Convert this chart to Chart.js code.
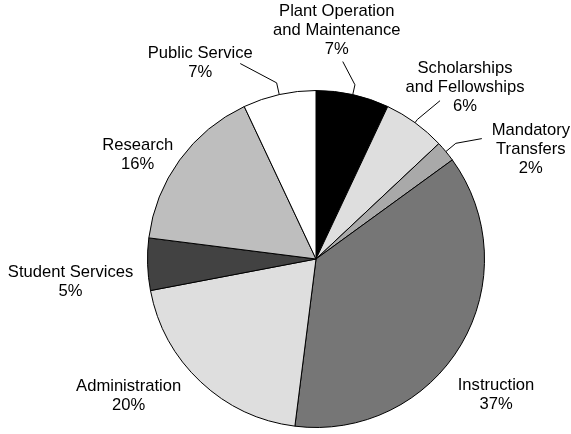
<!DOCTYPE html>
<html>
<head>
<meta charset="utf-8">
<script src="https://cdn.jsdelivr.net/npm/chart.js@4/dist/chart.umd.min.js"></script>
<style>
  body { margin: 0; background: #fff; }
  #wrap { width: 571px; height: 434px; }
</style>
</head>
<body>
<div id="wrap"><canvas id="myChart" width="571" height="434"></canvas></div>
<script>
// data
let categories = ['Plant Operation\nand Maintenance', 'Scholarships\nand Fellowships', 'Mandatory\nTransfers',
                  'Instruction', 'Administration', 'Student Services', 'Research', 'Public Service'];
let percents = [7, 6, 2, 37, 20, 5, 16, 7];

// style
let fills = ['#000000', '#dedede', '#a9a9a9', '#767676', '#dedede', '#424242', '#bebebe', '#ffffff'];
// label centre (middle line) offset from the slice's edge point at its mid angle
let labelOffsets = [[-16, -64], [50, -35], [85, -2], [35, 50], [-72, 14], [-77, 18], [-42, -5], [-79, -32]];
// leader lines: radial elbow length and end point offset from the edge point (null = no line)
let leaders = [[10, [-10, -33]], [4, [25, -22]], [13, [36, -13]], null, null, null, null, [12, [-39, -31]]];

const labelPlugin = {
    id: 'pieLabels',
    afterDatasetsDraw(chart) {
        let ctx = chart.ctx;
        let meta = chart.getDatasetMeta(0);
        ctx.save();
        ctx.font = '16.6px "Liberation Sans", Arial, sans-serif';
        ctx.fillStyle = '#000';
        ctx.strokeStyle = '#000';
        ctx.lineWidth = 1;
        ctx.textAlign = 'center';
        ctx.textBaseline = 'middle';
        meta.data.forEach((arc, i) => {
            let p = arc.getProps(['x', 'y', 'startAngle', 'endAngle', 'outerRadius'], true);
            let mid = (p.startAngle + p.endAngle) / 2;
            let cx = Math.cos(mid), cy = Math.sin(mid);
            let ex = p.x + cx * p.outerRadius;
            let ey = p.y + cy * p.outerRadius;

            let ld = leaders[i];
            if (ld) {
                ctx.beginPath();
                ctx.moveTo(ex, ey);
                ctx.lineTo(ex + cx * ld[0], ey + cy * ld[0]);
                ctx.lineTo(ex + ld[1][0], ey + ld[1][1]);
                ctx.stroke();
            }

            let lines = categories[i].split('\n');
            lines.push(percents[i] + '%');
            let lh = 19;
            let lx = ex + labelOffsets[i][0];
            let ly = ey + labelOffsets[i][1] - (lines.length - 1) * lh / 2;
            lines.forEach((t, k) => {
                ctx.fillText(t, lx, ly + k * lh);
            });
        });
        ctx.restore();
    }
};

let ctx = document.getElementById('myChart').getContext('2d');
let chart = new Chart(ctx, {
    type: 'pie',
    data: {
        labels: categories,
        datasets: [{
            data: percents,
            backgroundColor: fills,
            borderColor: '#000',
            borderWidth: 1,
            hoverOffset: 0
        }]
    },
    options: {
        responsive: false,
        animation: false,
        layout: { padding: { left: 147, right: 86, top: 90, bottom: 6 } },
        plugins: {
            legend: { display: false },
            tooltip: { enabled: false }
        }
    },
    plugins: [labelPlugin]
});
</script>
</body>
</html>
